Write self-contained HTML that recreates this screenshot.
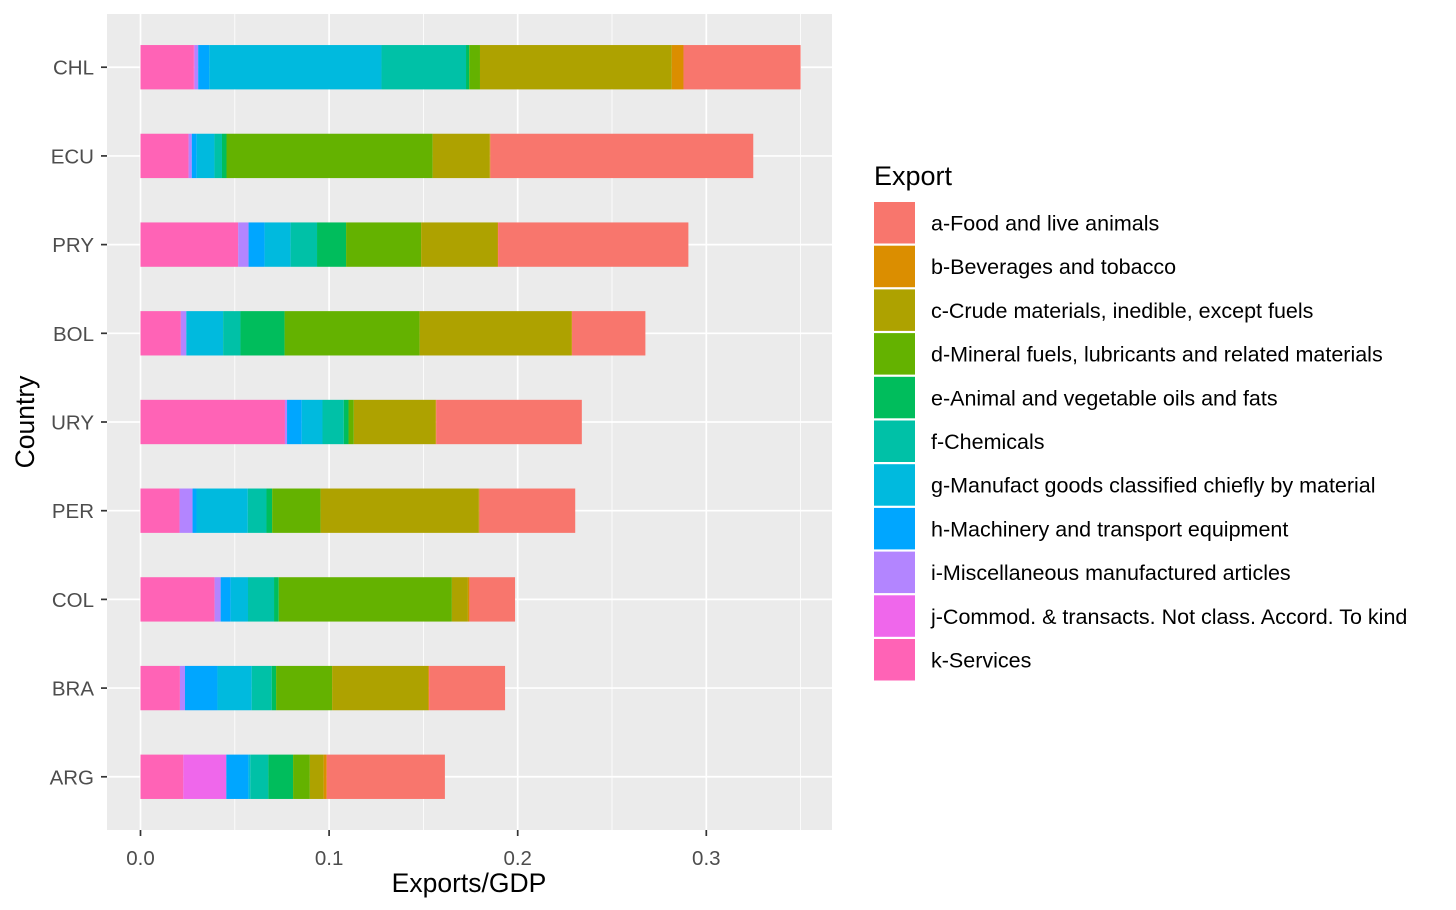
<!DOCTYPE html>
<html><head><meta charset="utf-8"><style>
body{margin:0;background:#fff;}
svg{display:block;font-family:"Liberation Sans",Arial,sans-serif;}
</style></head><body>
<svg id="chart" width="1456" height="910" viewBox="0 0 1456 910">
<rect x="107" y="14" width="725" height="816" fill="#EBEBEB"/>
<g id="grid"></g><g id="bars"></g><g id="axes"></g><g id="legend"></g>
<text x="469" y="892" font-size="26.5" text-anchor="middle" fill="#000">Exports/GDP</text>
<text transform="translate(34,422) rotate(-90)" font-size="26.5" text-anchor="middle" fill="#000">Country</text>
</svg>
<script>
const countries = ["CHL","ECU","PRY","BOL","URY","PER","COL","BRA","ARG"];
const categories = ["a-Food and live animals","b-Beverages and tobacco","c-Crude materials, inedible, except fuels","d-Mineral fuels, lubricants and related materials","e-Animal and vegetable oils and fats","f-Chemicals","g-Manufact goods classified chiefly by material","h-Machinery and transport equipment","i-Miscellaneous manufactured articles","j-Commod. & transacts. Not class. Accord. To kind","k-Services"];
const colors = ["#F8766D","#DB8E00","#AEA200","#64B200","#00BD5C","#00C1A7","#00BADE","#00A6FF","#B385FF","#EF67EB","#FF63B6"];
// values per category (a..k), per country in order of `countries`
const valA = [0.0621,0.1394,0.1009,0.0389,0.0772,0.0508,0.0242,0.0403,0.0627];
const valB = [0.0062,0.0003,0.0003,0.0002,0.0003,0.0003,0.0008,0.0005,0.0016];
const valC = [0.1017,0.0303,0.0405,0.0806,0.0434,0.0839,0.0085,0.0509,0.0073];
const valD = [0.0057,0.1093,0.0398,0.0716,0.0028,0.0257,0.0918,0.0297,0.0089];
const valE = [0.0017,0.0024,0.0154,0.0234,0.0025,0.0030,0.0025,0.0023,0.0131];
const valF = [0.0448,0.0040,0.0140,0.0092,0.0113,0.0099,0.0138,0.0106,0.0096];
const valG = [0.0913,0.0094,0.0138,0.0195,0.0110,0.0272,0.0092,0.0182,0.0010];
const valH = [0.0059,0.0026,0.0085,0.0000,0.0078,0.0021,0.0053,0.0172,0.0117];
const valI = [0.0019,0.0017,0.0055,0.0029,0.0011,0.0069,0.0032,0.0027,0.0000];
const valJ = [0.0004,0.0000,0.0000,0.0000,0.0000,0.0000,0.0000,0.0000,0.0228];
const valK = [0.0283,0.0255,0.0518,0.0214,0.0766,0.0207,0.0393,0.0209,0.0227];
const xTicks = [0.0,0.1,0.2,0.3];
const xTickLabels = ["0.0","0.1","0.2","0.3"];

const series = [valA,valB,valC,valD,valE,valF,valG,valH,valI,valJ,valK];
const NS="http://www.w3.org/2000/svg";
const panel={l:107,r:832,t:14,b:830};
const x0=140.5, kx=1886;
const xs=v=>x0+v*kx;
const band=(panel.b-panel.t)/(countries.length+0.2);
const ys=i=>panel.t+band*(0.6+i);
function mk(tag,attrs,parent){const e=document.createElementNS(NS,tag);for(const k in attrs)e.setAttribute(k,attrs[k]);parent.appendChild(e);return e;}
const grid=document.getElementById('grid'),bars=document.getElementById('bars'),axes=document.getElementById('axes'),legend=document.getElementById('legend');
for(let m=0.05;m<0.36;m+=0.1){const l=mk('line',{x1:xs(m),x2:xs(m),y1:panel.t,y2:panel.b,stroke:'#fff','stroke-width':0.8},grid);

}
xTicks.forEach((t,i)=>{const l=mk('line',{x1:xs(t),x2:xs(t),y1:panel.t,y2:panel.b,stroke:'#fff','stroke-width':1.7},grid);


const tk=mk('line',{x1:xs(t),x2:xs(t),y1:panel.b,y2:panel.b+6,stroke:'#333','stroke-width':1.7},axes);


const tx=mk('text',{x:xs(t),y:panel.b+35,'font-size':20.5,'text-anchor':'middle',fill:'#4D4D4D'},axes);
tx.textContent=xTickLabels[i];

});
countries.forEach((c,i)=>{const y=ys(i);
const l=mk('line',{x1:panel.l,x2:panel.r,y1:y,y2:y,stroke:'#fff','stroke-width':1.7},grid);


const tk=mk('line',{x1:panel.l-6,x2:panel.l,y1:y,y2:y,stroke:'#333','stroke-width':1.7},axes);


const tx=mk('text',{x:panel.l-13,y:y+7.5,'font-size':20.5,'text-anchor':'end',fill:'#4D4D4D'},axes);
tx.textContent=c;


let cum=0;
for(let s=series.length-1;s>=0;s--){const v=series[s][i];
const r=mk('rect',{x:xs(cum),y:y-band*0.25,width:Math.max(0,v*kx),height:band*0.5,fill:colors[s]},bars);


cum+=v;}
});
const lt=mk('text',{x:874,y:185,'font-size':27,fill:'#000'},legend);
lt.textContent='Export';


categories.forEach((c,i)=>{const y=202+i*43.7;
const r=mk('rect',{x:874,y:y,width:41,height:41.5,fill:colors[i]},legend);


const t=mk('text',{x:931,y:y+28.5,'font-size':21.5,fill:'#000'},legend);
t.textContent=c;

});
</script>
</body></html>
